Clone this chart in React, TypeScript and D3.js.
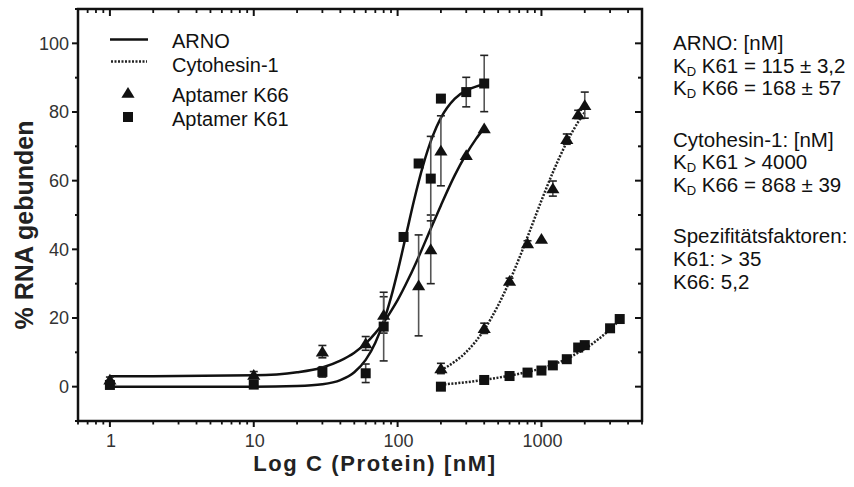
import React from "react";
import * as d3 from "d3";

// ---- Data ----
const arnoK66X = [1, 10, 30, 60, 80, 140, 170, 200, 300, 400];
const arnoK66Y = [2.0, 3.4, 10.2, 12.6, 20.9, 29.5, 40.0, 68.7, 67.4, 75.2];
const arnoK66Err = [0.8, 1.0, 1.8, 2.0, 5.3, 14.7, 10.0, 10.2, 0, 0];

const arnoK61X = [1, 10, 30, 60, 80, 110, 140, 170, 200, 300, 400];
const arnoK61Y = [0.5, 0.6, 4.3, 3.9, 17.5, 43.6, 65.0, 60.6, 83.9, 85.8, 88.3];
const arnoK61Err = [0.8, 1.0, 1.5, 2.7, 10.0, 0, 0, 12.3, 0, 4.3, 8.2];

const cytoK66X = [200, 400, 600, 800, 1000, 1200, 1500, 1800, 2000];
const cytoK66Y = [5.3, 17.0, 30.8, 41.7, 43.0, 57.7, 72.1, 79.3, 82.0];
const cytoK66Err = [1.5, 1.5, 0.8, 0.8, 0, 2.2, 1.5, 1.2, 3.8];

const cytoK61X = [200, 400, 600, 800, 1000, 1200, 1500, 1800, 2000, 3000, 3500];
const cytoK61Y = [0, 1.95, 3.1, 4.1, 4.7, 6.2, 8.0, 11.4, 12.1, 17.0, 19.7];

// fitted curves
const arnoK61CurveX = [1, 10, 20, 30, 40, 50, 60, 70, 80, 90, 100, 115, 130, 150, 175, 200, 250, 300, 350, 400];
const arnoK61CurveY = [0, 0, 0.2, 0.7, 1.9, 4.2, 7.8, 12.8, 19.0, 26.0, 33.5, 44.5, 54.2, 64.3, 72.9, 78.3, 83.9, 86.3, 87.4, 88.0];

const arnoK66CurveX = [1, 10, 20, 30, 40, 50, 60, 70, 80, 90, 100, 120, 140, 168, 200, 250, 300, 350, 400];
const arnoK66CurveY = [3.0, 3.3, 4.2, 5.6, 7.6, 9.9, 12.6, 15.6, 18.7, 22.0, 25.2, 31.7, 37.8, 45.5, 52.8, 61.6, 67.7, 72.1, 75.3];

const cytoK66CurveX = [200, 250, 300, 400, 500, 600, 700, 800, 1000, 1200, 1500, 1800, 2000];
const cytoK66CurveY = [4.8, 7.3, 10.1, 16.6, 23.7, 30.7, 37.4, 43.6, 54.2, 62.4, 71.2, 77.1, 79.9];

const cytoK61CurveX = [200, 300, 400, 600, 800, 1000, 1200, 1500, 1800, 2000, 2500, 3000, 3500];
const cytoK61CurveY = [0.6, 1.3, 2.0, 3.2, 4.3, 5.3, 6.4, 8.1, 9.9, 11.0, 13.9, 16.7, 19.5];

const yTickValues = [0, 20, 40, 60, 80, 100];
const yMinorValues = [-10, 10, 30, 50, 70, 90, 110];
const xTickValues = [1, 10, 100, 1000];
const xTickLabels = ["1", "10", "100", "1000"];

const legendLabels = ["ARNO", "Cytohesin-1", "Aptamer K66", "Aptamer K61"];

const FONT = "'Liberation Sans', Arial, Helvetica, sans-serif";

export default function App() {
  const W = 854, H = 487;
  const left = 78, right = 642, top = 9, bottom = 421;
  const x = d3.scaleLog().domain([0.6, 5000]).range([left, right]);
  const y = d3.scaleLinear().domain([-10, 110]).range([bottom, top]);

  const minorX: number[] = [];
  for (const dec of [0.1, 1, 10, 100, 1000]) {
    for (let m = 2; m <= 9; m++) {
      const v = dec * m;
      if (v >= 0.6 && v <= 5000) minorX.push(v);
    }
  }

  const line = d3
    .line<[number, number]>()
    .x((d) => x(d[0]))
    .y((d) => y(d[1]))
    .curve(d3.curveMonotoneX);

  const zip = (a: number[], b: number[]) => a.map((v, i) => [v, b[i]] as [number, number]);

  const tri = (cx: number, cy: number, s = 12) =>
    `M${cx},${cy - s * 0.5}L${cx + s * 0.55},${cy + s * 0.4}L${cx - s * 0.55},${cy + s * 0.4}Z`;

  const errBars = (xs: number[], ys: number[], es: number[], key: string) =>
    xs.map((xv, i) => {
      const e = es[i];
      if (!e) return null;
      const px = x(xv);
      const y1 = y(ys[i] + e), y2 = y(ys[i] - e);
      return (
        <g key={key + i}>
          <line x1={px} x2={px} y1={y1} y2={y2} stroke="#555" strokeWidth={1.6} />
          <line x1={px - 4} x2={px + 4} y1={y1} y2={y1} stroke="#222" strokeWidth={1.6} />
          <line x1={px - 4} x2={px + 4} y1={y2} y2={y2} stroke="#222" strokeWidth={1.6} />
        </g>
      );
    });

  const squares = (xs: number[], ys: number[], key: string) =>
    xs.map((xv, i) => (
      <rect key={key + i} x={x(xv) - 5} y={y(ys[i]) - 5} width={10} height={10} fill="#111" />
    ));
  const triangles = (xs: number[], ys: number[], key: string) =>
    xs.map((xv, i) => <path key={key + i} d={tri(x(xv), y(ys[i]))} fill="#111" />);

  const rightLines: { t: string; kd?: boolean; yb: number }[] = [
    { t: "ARNO: [nM]", yb: 50 },
    { t: " K61 = 115 ± 3,2", kd: true, yb: 72.5 },
    { t: " K66 = 168 ± 57", kd: true, yb: 95 },
    { t: "Cytohesin-1: [nM]", yb: 146.7 },
    { t: " K61 > 4000", kd: true, yb: 169 },
    { t: " K66 = 868 ± 39", kd: true, yb: 191.5 },
    { t: "Spezifitätsfaktoren:", yb: 243.3 },
    { t: "K61: > 35", yb: 266 },
    { t: "K66: 5,2", yb: 288.5 },
  ];

  return (
    <svg
      width={W}
      height={H}
      style={{ position: "absolute", left: 0, top: 0, background: "#fff" }}
      fontFamily={FONT}
    >
      <rect x={0} y={0} width={W} height={H} fill="#fff" />

      {/* curves */}
      <path d={line(zip(arnoK61CurveX, arnoK61CurveY)) || ""} fill="none" stroke="#111" strokeWidth={2.5} />
      <path d={line(zip(arnoK66CurveX, arnoK66CurveY)) || ""} fill="none" stroke="#111" strokeWidth={2.5} />
      <path d={line(zip(cytoK66CurveX, cytoK66CurveY)) || ""} fill="none" stroke="#222" strokeWidth={2.5} strokeDasharray="2 1.5" />
      <path d={line(zip(cytoK61CurveX, cytoK61CurveY)) || ""} fill="none" stroke="#222" strokeWidth={2.5} strokeDasharray="2 1.5" />

      {/* error bars */}
      {errBars(arnoK66X, arnoK66Y, arnoK66Err, "e66a")}
      {errBars(arnoK61X, arnoK61Y, arnoK61Err, "e61a")}
      {errBars(cytoK66X, cytoK66Y, cytoK66Err, "e66c")}

      {/* markers */}
      {squares(arnoK61X, arnoK61Y, "s61a")}
      {squares(cytoK61X, cytoK61Y, "s61c")}
      {triangles(arnoK66X, arnoK66Y, "t66a")}
      {triangles(cytoK66X, cytoK66Y, "t66c")}

      {/* frame */}
      <rect x={left} y={top} width={right - left} height={bottom - top} fill="none" stroke="#111" strokeWidth={2.5} />

      {/* y ticks */}
      {yTickValues.map((v) => (
        <g key={"yt" + v}>
          <line x1={left - 6} x2={left} y1={y(v)} y2={y(v)} stroke="#111" strokeWidth={2} />
          <line x1={right - 7} x2={right} y1={y(v)} y2={y(v)} stroke="#111" strokeWidth={2} />
          <text x={left - 9} y={y(v)} dy="0.36em" textAnchor="end" fontSize={18} fill="#333">
            {v}
          </text>
        </g>
      ))}
      {yMinorValues.map((v) => (
        <g key={"ym" + v}>
          <line x1={left - 3} x2={left} y1={y(v)} y2={y(v)} stroke="#111" strokeWidth={2} />
          <line x1={right - 4} x2={right} y1={y(v)} y2={y(v)} stroke="#111" strokeWidth={2} />
        </g>
      ))}

      {/* x ticks */}
      {xTickValues.map((v, i) => (
        <g key={"xt" + v}>
          <line x1={x(v)} x2={x(v)} y1={bottom} y2={bottom + 6} stroke="#111" strokeWidth={2} />
          <line x1={x(v)} x2={x(v)} y1={top} y2={top + 7} stroke="#111" strokeWidth={2} />
          <text x={x(v) + 1} y={447} textAnchor="middle" fontSize={18} fill="#333">
            {xTickLabels[i]}
          </text>
        </g>
      ))}
      {minorX.map((v) => (
        <g key={"xm" + v}>
          <line x1={x(v)} x2={x(v)} y1={bottom} y2={bottom + 3.5} stroke="#111" strokeWidth={1.8} />
          <line x1={x(v)} x2={x(v)} y1={top} y2={top + 4} stroke="#111" strokeWidth={1.8} />
        </g>
      ))}

      {/* axis titles */}
      <text x={375} y={471} textAnchor="middle" fontSize={22} fontWeight="bold" letterSpacing={1.6} fill="#222">
        Log C (Protein) [nM]
      </text>
      <text
        transform={`translate(33,225) rotate(-90)`}
        textAnchor="middle"
        fontSize={25}
        fontWeight="bold"
        fill="#222"
      >
        % RNA gebunden
      </text>

      {/* legend */}
      <line x1={110} x2={148} y1={39.5} y2={39.5} stroke="#111" strokeWidth={2.5} />
      <line x1={111} x2={147} y1={61.5} y2={61.5} stroke="#222" strokeWidth={2.5} strokeDasharray="2 1.5" />
      <path d={tri(128, 93)} fill="#111" />
      <rect x={123} y={112} width={10} height={10} fill="#111" />
      {legendLabels.map((l, i) => (
        <text key={l} x={172} y={[47.7, 71.5, 101.7, 126][i]} fontSize={20} fill="#111">
          {l}
        </text>
      ))}

      {/* right annotation */}
      {rightLines.map((r, i) => (
        <text key={"r" + i} x={673} y={r.yb} fontSize={20.5} fill="#111">
          {r.kd ? (
            <>
              <tspan>K</tspan>
              <tspan fontSize={13} dy={3}>D</tspan>
              <tspan dy={-3}>{r.t}</tspan>
            </>
          ) : (
            r.t
          )}
        </text>
      ))}
    </svg>
  );
}
